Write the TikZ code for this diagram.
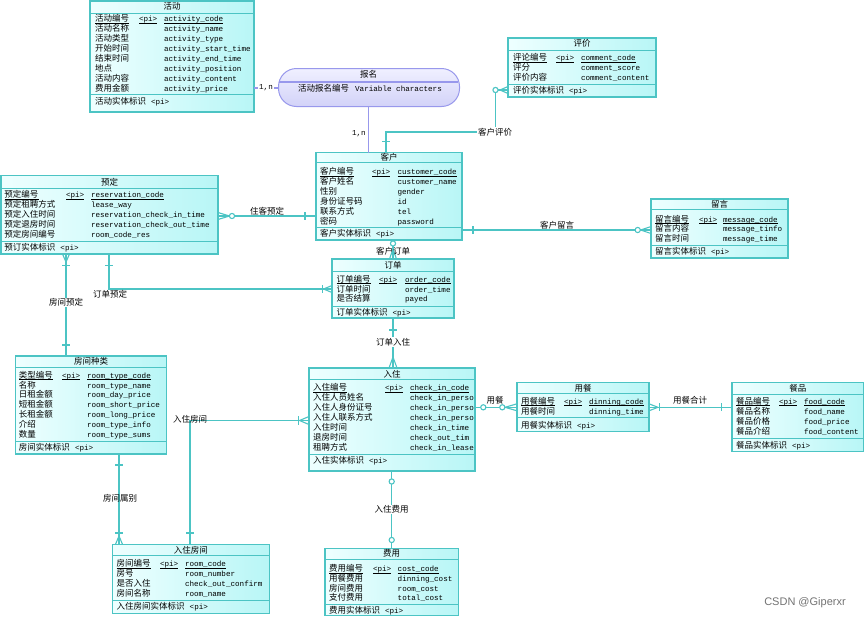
\documentclass[tikz,border=0pt]{standalone}
\usepackage{fontspec}
\newfontfamily\cjkfam{Noto Sans CJK SC}
\newfontfamily\monofam{Liberation Mono}
\newfontfamily\wmfam{Liberation Sans}
\usetikzlibrary{calc}
\definecolor{entborder}{HTML}{4CC4C4}
\definecolor{entfillA}{HTML}{EEFFFF}
\definecolor{entfillB}{HTML}{B8F6F6}
\definecolor{relline}{HTML}{4CC4C4}
\definecolor{assocline}{HTML}{9898EC}
\definecolor{assocfillA}{HTML}{F0F0FF}
\definecolor{assocfillB}{HTML}{D2D2F8}
\newcommand{\cjtxt}{\cjkfam\fontsize{8.5}{10}\selectfont}
\newcommand{\mntxt}{\monofam\fontsize{7.6}{10}\selectfont}
\tikzset{
  entbox/.style={draw=entborder, line width=1.3pt, left color=entfillA, right color=entfillB, inner sep=0pt, outer sep=0pt, anchor=north west},
  sepline/.style={draw=entborder, line width=1pt},
  lbl/.style={inner sep=0pt, outer sep=0pt, anchor=base west, font=\cjtxt, text=black},
  codetxt/.style={inner sep=0pt, outer sep=0pt, anchor=base west, font=\mntxt, text=black},
  ttl/.style={inner sep=0pt, outer sep=0pt, anchor=base, font=\cjtxt, text=black},
  ulin/.style={draw=black, line width=0.6pt},
  rel/.style={draw=relline, line width=1.1pt},
  circ/.style={draw=relline, line width=1.1pt, fill=white},
  assoc/.style={draw=assocline, line width=1.1pt},
  rlab/.style={inner sep=0.8pt, outer sep=0pt, anchor=base, font=\cjtxt, text=black},
}
\newcommand{\setcols}[3]{\def\colL{#1}\def\colP{#2}\def\colC{#3}}
% name, left, top, right, bottom, sep1, sep2, titleY, title
\newcommand{\ent}[9]{%
  \node[entbox, minimum width={(#4-#2)*1pt}, minimum height={(#5-#3)*1pt}] (#1) at (#2,#3) {};
  \draw[sepline] (#2,#6) -- (#4,#6);
  \draw[sepline] (#2,#7) -- (#4,#7);
  \node[ttl] (#1-title) at ({(#2+#4)/2},{#8+3.3}) {#9};
}
\newcommand{\ulnode}[1]{%
  \draw[ulin] ([yshift=-1.4pt]#1.base west) -- ([yshift=-1.4pt]#1.base east);
}
\newcommand{\pk}[4]{%
  \node[lbl] (#1-l) at (\colL,{#2+3.3}) {#3};
  \node[codetxt] (#1-p) at (\colP,{#2+3.3}) {<pi>};
  \node[codetxt] (#1-c) at (\colC,{#2+3.3}) {#4};
  \ulnode{#1-l}\ulnode{#1-p}\ulnode{#1-c}
}
\newcommand{\attr}[4]{%
  \node[lbl] (#1-l) at (\colL,{#2+3.3}) {#3};
  \node[codetxt] (#1-c) at (\colC,{#2+3.3}) {#4};
}
\newcommand{\foot}[3]{%
  \node[lbl] (#1) at (\colL,{#2+3.3}) {#3\hspace{5pt}{\mntxt <pi>}};
}
\begin{document}
\begin{tikzpicture}[x=1pt,y=-1pt]
\fill[white] (0,0) rectangle (865,619);
\useasboundingbox (0,0) rectangle (865,619);

% ---------- entities ----------
\setcols{95}{139}{164}
\ent{hd}{90}{1}{254}{112}{13}{94.5}{6.5}{活动}
\pk{hd1}{18.5}{活动编号}{activity\_code}
\attr{hd2}{28.5}{活动名称}{activity\_name}
\attr{hd3}{38.5}{活动类型}{activity\_type}
\attr{hd4}{48.5}{开始时间}{activity\_start\_time}
\attr{hd5}{58.5}{结束时间}{activity\_end\_time}
\attr{hd6}{68.5}{地点}{activity\_position}
\attr{hd7}{78.5}{活动内容}{activity\_content}
\attr{hd8}{88.5}{费用金额}{activity\_price}
\foot{hd-f}{101}{活动实体标识}

\setcols{513}{556}{581}
\ent{pj}{508}{38}{656}{97}{50}{84}{43.5}{评价}
\pk{pj1}{57.5}{评论编号}{comment\_code}
\attr{pj2}{67.5}{评分}{comment\_score}
\attr{pj3}{77.5}{评价内容}{comment\_content}
\foot{pj-f}{90.5}{评价实体标识}

\setcols{320}{372}{397.5}
\ent{kh}{316}{152.5}{462}{240}{162.5}{227.5}{157.5}{客户}
\pk{kh1}{171.5}{客户编号}{customer\_code}
\attr{kh2}{181.5}{客户姓名}{customer\_name}
\attr{kh3}{191.5}{性别}{gender}
\attr{kh4}{201.3}{身份证号码}{id}
\attr{kh5}{211}{联系方式}{tel}
\attr{kh6}{220.7}{密码}{password}
\foot{kh-f}{233.5}{客户实体标识}

\setcols{4.5}{66}{91}
\ent{yd}{1}{175.5}{218}{254}{188}{241}{182}{预定}
\pk{yd1}{194.5}{预定编号}{reservation\_code}
\attr{yd2}{204.5}{预定租聘方式}{lease\_way}
\attr{yd3}{214.3}{预定入住时间}{reservation\_check\_in\_time}
\attr{yd4}{224}{预定退房时间}{reservation\_check\_out\_time}
\attr{yd5}{234}{预定房间编号}{room\_code\_res}
\foot{yd-f}{247.5}{预订实体标识}

\setcols{655}{699}{723}
\ent{ly}{651}{199}{788}{258}{209}{245}{204}{留言}
\pk{ly1}{219}{留言编号}{message\_code}
\attr{ly2}{228.5}{留言内容}{message\_tinfo}
\attr{ly3}{238}{留言时间}{message\_time}
\foot{ly-f}{251}{留言实体标识}

\setcols{336.5}{379}{405}
\ent{dd}{332}{259}{454}{318}{271}{306}{265}{订单}
\pk{dd1}{279}{订单编号}{order\_code}
\attr{dd2}{288.7}{订单时间}{order\_time}
\attr{dd3}{298.3}{是否结算}{payed}
\foot{dd-f}{311.7}{订单实体标识}

\setcols{19}{62}{87}
\ent{fj}{15.7}{356}{166.7}{454}{367}{441}{361.5}{房间种类}
\pk{fj1}{375}{类型编号}{room\_type\_code}
\attr{fj2}{384.7}{名称}{room\_type\_name}
\attr{fj3}{394.3}{日租金额}{room\_day\_price}
\attr{fj4}{404}{短租金额}{room\_short\_price}
\attr{fj5}{414}{长租金额}{room\_long\_price}
\attr{fj6}{424}{介绍}{room\_type\_info}
\attr{fj7}{433.7}{数量}{room\_type\_sums}
\foot{fj-f}{447.3}{房间实体标识}

\setcols{313}{385}{410}
\ent{rz}{309}{368}{475}{471}{379.5}{454.5}{374}{入住}
\pk{rz1}{387.3}{入住编号}{check\_in\_code}
\attr{rz2}{397.3}{入住人员姓名}{check\_in\_perso}
\attr{rz3}{407.3}{入住人身份证号}{check\_in\_perso}
\attr{rz4}{417.3}{入住人联系方式}{check\_in\_perso}
\attr{rz5}{427.3}{入住时间}{check\_in\_time}
\attr{rz6}{437.3}{退房时间}{check\_out\_tim}
\attr{rz7}{447.3}{租聘方式}{check\_in\_lease}
\foot{rz-f}{460}{入住实体标识}

\setcols{521}{564}{589}
\ent{yc}{517}{382.3}{649}{431.7}{393.5}{417.5}{388}{用餐}
\pk{yc1}{401}{用餐编号}{dinning\_code}
\attr{yc2}{411}{用餐时间}{dinning\_time}
\foot{yc-f}{425}{用餐实体标识}

\setcols{736}{779}{804}
\ent{cp}{732}{382.3}{863.5}{451.7}{394}{438.3}{388.5}{餐品}
\pk{cp1}{401}{餐品编号}{food\_code}
\attr{cp2}{411}{餐品名称}{food\_name}
\attr{cp3}{421}{餐品价格}{food\_price}
\attr{cp4}{430.7}{餐品介绍}{food\_content}
\foot{cp-f}{445}{餐品实体标识}

\setcols{116.7}{160}{185}
\ent{rf}{112.3}{544.3}{269.3}{613.3}{555.5}{600}{550}{入住房间}
\pk{rf1}{563.3}{房间编号}{room\_code}
\attr{rf2}{573.3}{房号}{room\_number}
\attr{rf3}{583.3}{是否入住}{check\_out\_confirm}
\attr{rf4}{592.7}{房间名称}{room\_name}
\foot{rf-f}{606}{入住房间实体标识}

\setcols{329}{373}{397.7}
\ent{fy}{325}{548.3}{458.3}{615.7}{559}{604.3}{553.5}{费用}
\pk{fy1}{568.3}{费用编号}{cost\_code}
\attr{fy2}{577.7}{用餐费用}{dinning\_cost}
\attr{fy3}{587.7}{房间费用}{room\_cost}
\attr{fy4}{597.3}{支付费用}{total\_cost}
\foot{fy-f}{610}{费用实体标识}

% ---------- association 报名 ----------
\node[draw=assocline, line width=1pt, rounded corners=18pt, top color=assocfillA, bottom color=assocfillB,
      minimum width=181pt, minimum height=38pt, anchor=north west, inner sep=0pt] (bm) at (278,68) {};
\draw[assoc] (278.6,82) -- (458.4,82);
\node[ttl] (bm-title) at (368.5,77.3) {报名};
\node[lbl, anchor=base] (bm-attr) at (370,91.3) {活动报名编号\hspace{6pt}{\mntxt Variable characters}};

% 活动 - 报名
\draw[assoc] (hd.east |- 0,88) -- (bm.west |- 0,88);
\node[inner sep=0.8pt, fill=white, font=\mntxt] (n-hd) at (266,88) {1,n};
% 报名 - 客户
\draw[assoc] (368.5,0 |- bm.south) -- (368.5,0 |- kh.north);
\node[inner sep=0pt, anchor=east, font=\mntxt] (n-kh) at (366,134) {1,n};

% ---------- relationships ----------
% 客户评价
\draw[rel] (386,0 |- kh.north) -- (386,132) -- (495.5,132) -- (495.5,90) -- (pj.west |- 0,90);
\draw[rel] (500,90) -- (508,86.5) (500,90) -- (508,93.5);
\draw[circ] (495.5,90) circle (2.6pt);
\draw[rel] (382,141.5) -- (390,141.5);
\node[rlab, fill=white] (l-khpj) at (495,135.3) {客户评价};

% 住客预定
\draw[rel] (yd.east |- 0,216) -- (kh.west |- 0,216);
\draw[rel] (229.5,216) -- (218,212.5) (229.5,216) -- (218,219.5);
\draw[circ] (232,216) circle (2.6pt);
\draw[rel] (305,212) -- (305,220);
\node[rlab] (l-zkyd) at (267,214.3) {住客预定};

% 客户留言
\draw[rel] (kh.east |- 0,230) -- (ly.west |- 0,230);
\draw[rel] (473,226) -- (473,234);
\draw[rel] (640.5,230) -- (651,226.5) (640.5,230) -- (651,233.5);
\draw[circ] (637.7,230) circle (2.6pt);
\node[rlab] (l-khly) at (557,228.8) {客户留言};

% 客户订单
\draw[rel] (393,0 |- kh.south) -- (393,0 |- dd.north);
\draw[rel] (393,249) -- (389.5,259) (393,249) -- (396.5,259);
\draw[circ] (393,243.5) circle (2.6pt);
\node[rlab] (l-khdd) at (393,254.3) {客户订单};

% 订单入住
\draw[rel] (393,0 |- dd.south) -- (393,0 |- rz.north);
\draw[rel] (389,330) -- (397,330);
\draw[rel] (393,357) -- (389,368) (393,357) -- (397,368);
\node[rlab, fill=white] (l-ddrz) at (393,345.3) {订单入住};

% 房间预定
\draw[rel] (66,0 |- yd.south) -- (66,0 |- fj.north);
\draw[rel] (66,262) -- (62.5,254) (66,262) -- (69.5,254);
\draw[rel] (62,265.5) -- (70,265.5);
\draw[rel] (62,345) -- (70,345);
\node[rlab, fill=white] (l-fjyd) at (66,305.8) {房间预定};

% 订单预定
\draw[rel] (109,0 |- yd.south) -- (109,289) -- (dd.west |- 0,289);
\draw[rel] (105,265.5) -- (113,265.5);
\draw[rel] (322.5,285) -- (322.5,293);
\draw[rel] (323.5,289) -- (332,285.5) (323.5,289) -- (332,292.5);
\node[rlab] (l-ddyd) at (110,297.3) {订单预定};

% 入住房间
\draw[rel] (rz.west |- 0,420.5) -- (190,420.5) -- (190,0 |- rf.north);
\draw[rel] (299.5,420.5) -- (309,416.5) (299.5,420.5) -- (309,424.5);
\draw[rel] (298.3,416) -- (298.3,425);
\draw[rel] (186,533) -- (194,533);
\node[rlab] (l-rzfj) at (190,422.8) {入住房间};

% 房间属别
\draw[rel] (119,0 |- fj.south) -- (119,0 |- rf.north);
\draw[rel] (115,465) -- (123,465);
\draw[rel] (115,533) -- (123,533);
\draw[rel] (119,536) -- (115.5,544.3) (119,536) -- (122.5,544.3);
\node[rlab] (l-fjsb) at (120,501.3) {房间属别};

% 入住费用
\draw[rel] (391.7,0 |- rz.south) -- (391.7,0 |- fy.north);
\draw[circ] (391.7,481.5) circle (2.6pt);
\draw[circ] (391.7,540) circle (2.6pt);
\node[rlab, fill=white] (l-rzfy) at (391.7,512.8) {入住费用};

% 用餐
\draw[rel] (rz.east |- 0,407.3) -- (yc.west |- 0,407.3);
\draw[rel] (505,407.3) -- (517,403.8) (505,407.3) -- (517,410.8);
\draw[circ] (483.3,407.3) circle (2.6pt);
\draw[circ] (502.3,407.3) circle (2.6pt);
\node[rlab] (l-yc) at (495,403.3) {用餐};

% 用餐合计
\draw[rel] (yc.east |- 0,407.3) -- (cp.west |- 0,407.3);
\draw[rel] (658,407.3) -- (649,403.8) (658,407.3) -- (649,410.8);
\draw[rel] (659.5,403.3) -- (659.5,411.3);
\draw[rel] (721.7,403.3) -- (721.7,411.3);
\node[rlab] (l-ychj) at (690,403.3) {用餐合计};

% watermark
\node[inner sep=0pt, anchor=center, font=\wmfam\fontsize{11}{13}\selectfont, text=black!55] (wm) at (805,603) {CSDN @Giperxr};
\end{tikzpicture}
\end{document}
